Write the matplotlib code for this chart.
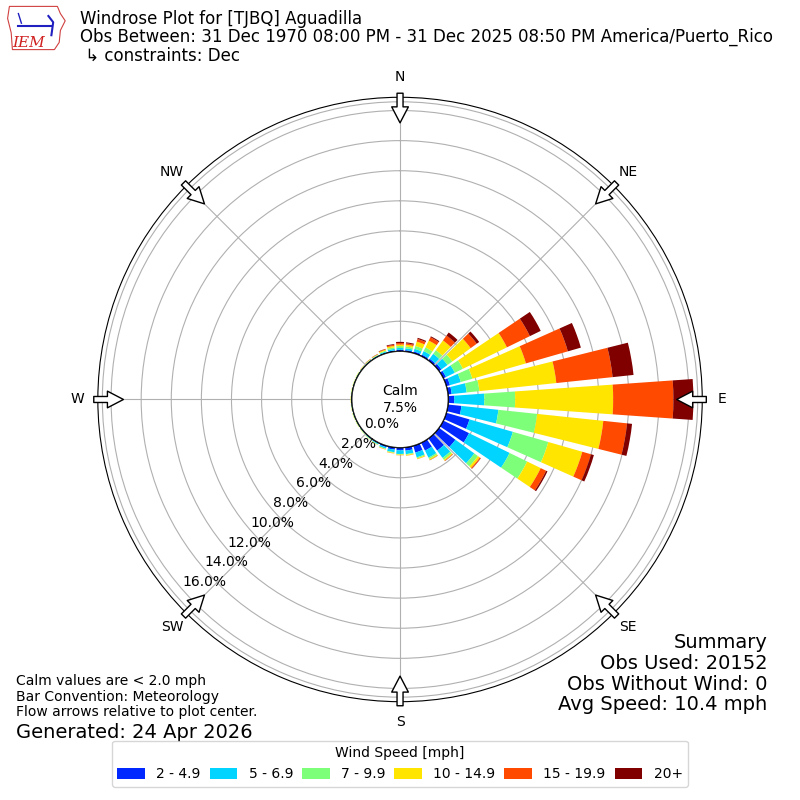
import numpy as np
import matplotlib
matplotlib.use('Agg')
import matplotlib.pyplot as plt
from matplotlib.patches import Circle, Polygon

# direction bins (deg, meteorological) and cumulative percent per speed bin
directions = np.arange(0, 360, 10)
speed_labels = ['2 - 4.9', '5 - 6.9', '7 - 9.9', '10 - 14.9', '15 - 19.9', '20+']
speed_colors = ['#0028ff', '#00d4ff', '#7dff7a', '#ffe500', '#ff4a00', '#800000']

# cumulative % at the end of each speed bin
cum_2 = [0.10, 0.10, 0.12, 0.12, 0.15, 0.20, 0.20, 0.25, 0.25, 0.40, 0.90, 1.60,
         1.90, 1.35, 1.00, 0.58, 0.47, 0.22, 0.18, 0.15, 0.10, 0.06, 0.05, 0.04,
         0.03, 0.03, 0.03, 0.03, 0.03, 0.03, 0.03, 0.03, 0.04, 0.04, 0.05, 0.08]
cum_5 = [0.22, 0.22, 0.30, 0.38, 0.55, 0.70, 0.85, 1.00, 1.25, 2.40, 3.37, 4.60,
         4.90, 2.90, 1.60, 1.10, 0.80, 0.45, 0.42, 0.32, 0.20, 0.12, 0.09, 0.07,
         0.06, 0.06, 0.06, 0.05, 0.05, 0.05, 0.06, 0.06, 0.07, 0.08, 0.12, 0.18]
cum_7 = [0.35, 0.34, 0.50, 0.65, 0.85, 1.10, 1.45, 1.80, 2.10, 4.45, 5.96, 7.05,
         6.20, 3.20, 1.75, 1.20, 0.87, 0.50, 0.46, 0.36, 0.23, 0.15, 0.11, 0.09,
         0.08, 0.08, 0.07, 0.07, 0.07, 0.07, 0.08, 0.08, 0.09, 0.11, 0.18, 0.28]
cum_10 = [0.45, 0.46, 0.80, 1.15, 1.65, 2.60, 4.70, 5.50, 7.24, 10.96, 10.38, 9.40,
          7.20, 3.35, 1.83, 1.28, 0.92, 0.55, 0.50, 0.40, 0.26, 0.17, 0.13, 0.11,
          0.10, 0.10, 0.09, 0.09, 0.09, 0.09, 0.10, 0.10, 0.12, 0.14, 0.24, 0.38]
cum_15 = [0.55, 0.55, 0.98, 1.40, 2.05, 3.10, 6.40, 8.40, 11.00, 14.96, 11.97, 10.00,
          7.60, 3.42, 1.86, 1.29, 0.93, 0.56, 0.51, 0.41, 0.27, 0.17, 0.13, 0.11,
          0.10, 0.10, 0.09, 0.09, 0.09, 0.09, 0.10, 0.11, 0.13, 0.16, 0.28, 0.45]
cum_20 = [0.63, 0.62, 1.06, 1.47, 2.30, 3.30, 7.20, 9.30, 12.40, 16.29, 12.30, 10.20,
          7.70, 3.44, 1.87, 1.30, 0.93, 0.56, 0.51, 0.41, 0.27, 0.17, 0.13, 0.11,
          0.10, 0.10, 0.09, 0.09, 0.09, 0.09, 0.10, 0.11, 0.14, 0.17, 0.30, 0.50]

calm_pct = 7.5
rmax = 16.88
rorigin = -3.2
rticks = [0, 2, 4, 6, 8, 10, 12, 14, 16, 16.58]

cumulative = np.array([cum_2, cum_5, cum_7, cum_10, cum_15, cum_20])

fig = plt.figure(figsize=(8, 8), dpi=100)
ax = fig.add_axes([0.1223, 0.1229, 0.7555, 0.7555], projection='polar')
ax.set_theta_zero_location('N')
ax.set_theta_direction(-1)

theta = np.radians(directions)
width = np.radians(8)
bottom = np.zeros(len(directions))
for i in range(len(speed_labels)):
    height = cumulative[i] - bottom
    ax.bar(theta, height, width=width, bottom=bottom, color=speed_colors[i],
           linewidth=0, label=speed_labels[i], zorder=2)
    bottom = cumulative[i].copy()

ax.set_rorigin(rorigin)
ax.set_ylim(0, rmax)
ax.set_yticks(rticks)
ax.set_yticklabels(['%.1f%%' % t for t in rticks[:-1]] + [''], fontsize=10)
ax.set_rlabel_position(229)

ax.set_xticks(np.radians(np.arange(0, 360, 45)))
ax.set_xticklabels(['N', 'NE', 'E', 'SE', 'S', 'SW', 'W', 'NW'], fontsize=10)
ax.tick_params(axis='x', pad=4)
ax.grid(True, color='#b0b0b0', lw=0.8, zorder=1)

# calm circle in the middle
calm_r = 0.5 * (-rorigin) / (rmax - rorigin)
ax.add_patch(Circle((0.5, 0.5), calm_r, transform=ax.transAxes, facecolor='white',
                    edgecolor='k', lw=1, zorder=3))
ax.text(0.5, 0.5, 'Calm\n%.1f%%' % calm_pct, transform=ax.transAxes, ha='center',
        va='center', fontsize=10, zorder=4)

# flow arrows at the edge
for d in range(0, 360, 45):
    ax.annotate('', xy=(np.radians(d), rmax - 1.7), xytext=(np.radians(d), rmax + 0.27),
                arrowprops=dict(arrowstyle='simple,head_length=0.96,head_width=1.0,tail_width=0.36',
                                fc='white', ec='k', lw=1, shrinkA=0, shrinkB=0,
                                mutation_scale=12),
                annotation_clip=False, zorder=5)

# header
fig.text(0.1, 0.988, 'Windrose Plot for [TJBQ] Aguadilla\n'
         'Obs Between: 31 Dec 1970 08:00 PM - 31 Dec 2025 08:50 PM America/Puerto_Rico\n'
         ' \u21b3 constraints: Dec', fontsize=12, va='top', ha='left', linespacing=1.02)

# logo
lax = fig.add_axes([0.008, 0.935, 0.075, 0.06])
lax.set_xlim(0, 1)
lax.set_ylim(0, 1)
lax.axis('off')
lax.add_patch(Polygon([[0.05, 0.95], [0.85, 0.95], [0.9, 0.8], [0.98, 0.65], [0.9, 0.45],
                       [0.88, 0.2], [0.8, 0.05], [0.1, 0.05], [0.08, 0.4], [0.02, 0.7]],
                      closed=True, fill=False, ec='#d04040', lw=0.8))
lax.plot([0.2, 0.75], [0.55, 0.55], color='#2020c0', lw=1.5)
lax.plot([0.2, 0.25], [0.8, 0.6], color='#2020c0', lw=1)
lax.plot([0.7, 0.78, 0.75], [0.75, 0.62, 0.35], color='#2020c0', lw=1.5)
lax.text(0.1, 0.1, 'IEM', color='#d02020', fontsize=11, family='serif', style='italic')

# notes
fig.text(0.02, 0.101, 'Calm values are < 2.0 mph\nBar Convention: Meteorology\n'
         'Flow arrows relative to plot center.', fontsize=10, va='bottom', linespacing=1.15)
fig.text(0.02, 0.073, 'Generated: 24 Apr 2026', fontsize=14, va='bottom')
fig.text(0.959, 0.107, 'Summary\nObs Used: 20152\nObs Without Wind: 0\nAvg Speed: 10.4 mph',
         fontsize=14, ha='right', va='bottom', linespacing=1.12)

fig.legend(*ax.get_legend_handles_labels(), loc='lower center', bbox_to_anchor=(0.5, 0.008),
           ncol=6, title='Wind Speed [mph]', fontsize=10, title_fontsize=10,
           columnspacing=0.65, handleheight=0.8)

fig.savefig('out.png', dpi=100)
